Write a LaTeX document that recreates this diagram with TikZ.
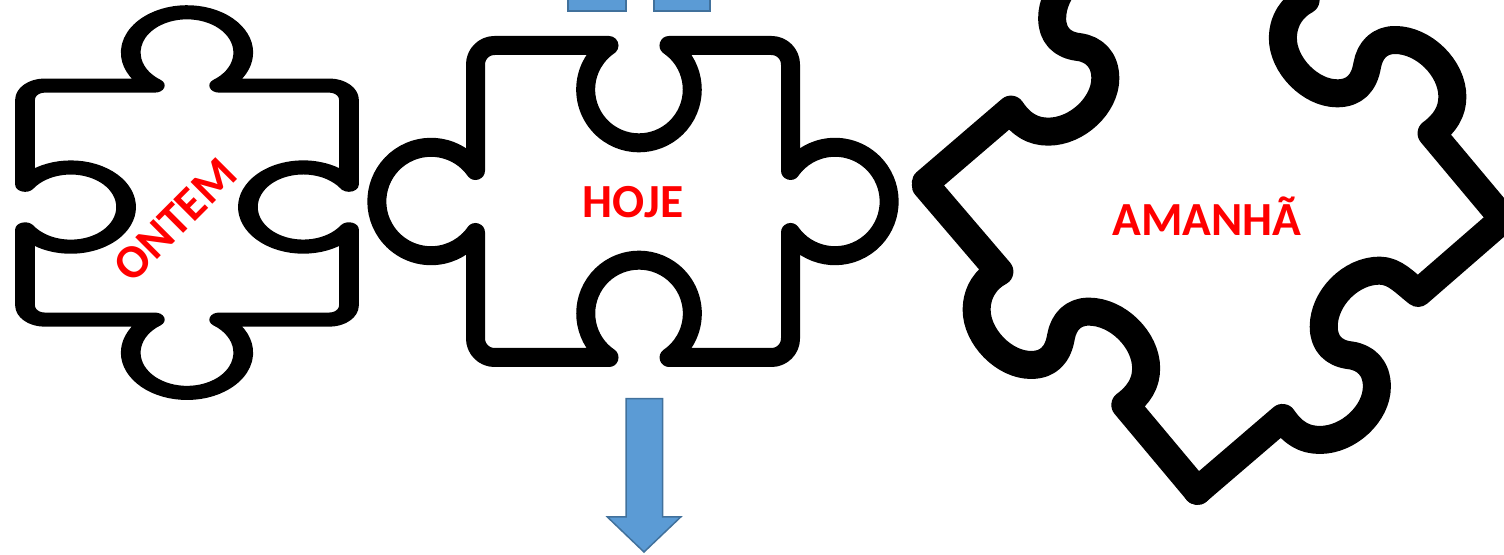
\documentclass[tikz,border=0pt]{standalone}
\usepackage{fontspec}
\setmainfont{Carlito}
\definecolor{arrowfill}{HTML}{5B9BD5}
\definecolor{arrowedge}{HTML}{41719C}
% one piece, centred on the origin
\newcommand{\pieceoutline}{
  (-24,156) -- (-138.5,156) arc[start angle=90,end angle=180,radius=19]
  -- (-157.5,31) arc[start angle=34.9,end angle=325.1,radius=54.2]
  -- (-157.5,-137) arc[start angle=180,end angle=270,radius=19]
  -- (-24,-156) arc[start angle=235.7,end angle=-55.7,radius=53.3]
  -- (138.5,-156) arc[start angle=270,end angle=360,radius=19]
  -- (157.5,-31) arc[start angle=214.9,end angle=505.1,radius=54.2]
  -- (157.5,137) arc[start angle=0,end angle=90,radius=19]
  -- (36,156) arc[start angle=55.7,end angle=-235.7,radius=53.3]
  -- cycle
}
% the two kinds of side of the tilted piece
\newcommand{\sideout}{
  (67,557) -- (258,815)
  .. controls (225,835) and (199,875) .. (199,930)
  .. controls (199,1010) and (270,1095) .. (340,1095)
  .. controls (385,1095) and (410,1065) .. (418,1010)
  .. controls (425,965) and (450,935) .. (490,935)
  .. controls (565,935) and (639,1020) .. (639,1105)
  .. controls (639,1150) and (620,1185) .. (585,1215)
  -- (772,1473)
}
\newcommand{\sidein}{
  (772,1473) -- (993,1254)
  .. controls (1020,1300) and (1050,1320) .. (1090,1320)
  .. controls (1165,1320) and (1238,1240) .. (1238,1160)
  .. controls (1238,1105) and (1210,1072) .. (1168,1066)
  .. controls (1125,1060) and (1100,1030) .. (1100,980)
  .. controls (1100,895) and (1170,812) .. (1245,812)
  .. controls (1285,812) and (1312,850) .. (1345,879)
  -- (1566,657)
}
\begin{document}
\begin{tikzpicture}[
    x=1pt,y=1pt,
    puzzleline/.style={draw=black,line join=round,line cap=round},
    daylabel/.style={text=red,inner sep=0pt,anchor=base,font=\fontsize{47.5}{47.5}\selectfont\bfseries},
    bluearrow/.style={draw=arrowedge,fill=arrowfill,line width=1.5pt,line join=miter}
    ]

    \clip (0,0) rectangle (1504,554);

    % ontem
    \draw[puzzleline,line width=19pt,transform canvas={shift={(187,351.4)},xscale=1.038,yscale=.743,rotate=-90}] \pieceoutline;
    % hoje
    \draw[puzzleline,line width=19pt,shift={(633,352.5)}] \pieceoutline;

    % amanha
    \begin{scope}[shift={(900,554)},x=.3852pt,y=-.3333pt]
      \foreach \dx/\dy in {0/0,795/-815}
        \draw[puzzleline,line width=28pt,shift={(\dx,\dy)}] \sideout;
      \foreach \dx/\dy in {0/0,-705/-925}
        \draw[puzzleline,line width=28pt,shift={(\dx,\dy)}] \sidein;
    \end{scope}

    \node[daylabel,rotate=45] (ontem) at (186,322.9) {ONTEM};
    \node[daylabel] (hoje) at (633,336) {HOJE};
    \node[daylabel] (amanha) at (1207,318) {AMANHÃ};

    % arrows
    \draw[bluearrow] (626,155.4) -- (662.5,155.4) -- (662.5,37) -- (680.7,37) -- (644,2) -- (607.4,37) -- (626,37) -- cycle;
    \draw[bluearrow] (568,543) rectangle (626,570);
    \draw[bluearrow] (654,543) rectangle (710,570);

  \end{tikzpicture}
\end{document}
